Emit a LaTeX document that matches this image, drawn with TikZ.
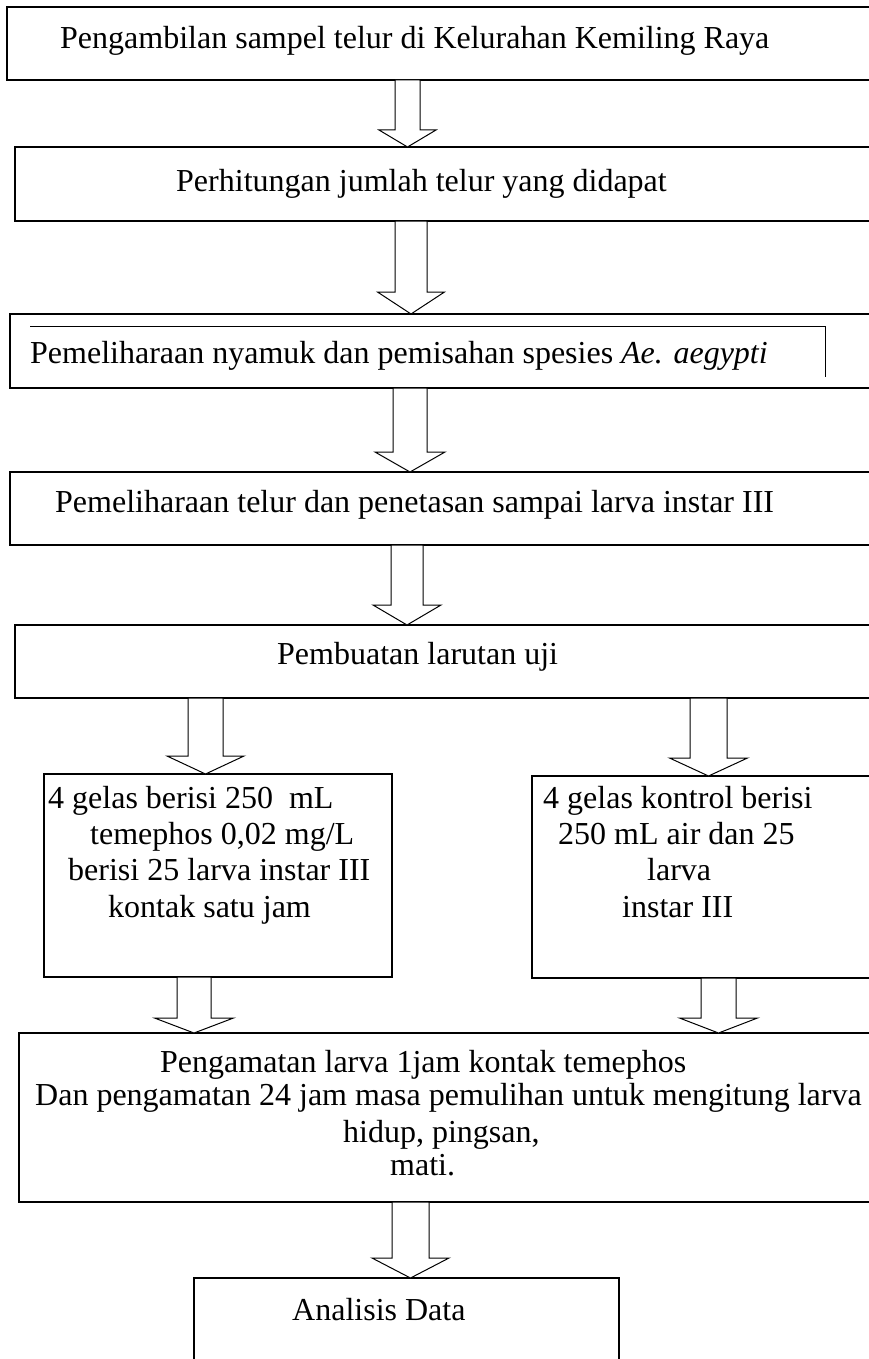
\documentclass[tikz,border=0pt]{standalone}
\usepackage{fontspec}
\setmainfont{Liberation Serif}
\usetikzlibrary{calc}
\tikzset{
  box/.style={draw, line width=1.2pt, inner sep=0pt, outer sep=0pt, anchor=north west},
  txt/.style={anchor=base west, inner sep=0pt, font=\fontsize{32}{37}\selectfont},
  arr/.style={draw, fill=white, line width=1pt, line join=miter},
  inner/.style={draw, line width=0.8pt},
}
% #1 x centre, #2 shaft half width, #3 head half width, #4 head length, #5 from node, #6 to node
\newcommand\blockarr[6]{%
  \path[arr] let \p1=(#1,0 |- #5.south), \p2=(#1,0 |- #6.north) in
    (\x1-#2pt,\y1) -- (\x1-#2pt,\y2+#4pt) -- (\x1-#3pt,\y2+#4pt) -- (\x1,\y2)
    -- (\x1+#3pt,\y2+#4pt) -- (\x1+#2pt,\y2+#4pt) -- (\x1+#2pt,\y1) -- cycle;}
\begin{document}
\begin{tikzpicture}[x=1pt,y=-1pt]
\useasboundingbox (0,0) rectangle (869,1359);
\clip (0,0) rectangle (869,1359);
\fill[white] (0,0) rectangle (869,1359);

% boxes
\node[box, minimum width=873, minimum height=73] (b1) at (7,7) {};
\node[box, minimum width=865, minimum height=74] (b2) at (15,147) {};
\node[box, minimum width=870, minimum height=74] (b3) at (10,314) {};
\node[box, minimum width=870, minimum height=73] (b4) at (10,472) {};
\node[box, minimum width=865, minimum height=73] (b5) at (15,625) {};
\node[box, minimum width=348, minimum height=203] (b6l) at (44,774) {};
\node[box, minimum width=348, minimum height=202] (b6r) at (532,776) {};
\node[box, minimum width=861, minimum height=169] (b7) at (19,1033) {};
\node[box, minimum width=425, minimum height=120] (b8) at (194,1278) {};

% inner frame line in box 3
\coordinate (i1) at (30,326);
\coordinate (i2) at (825,326);
\coordinate (i3) at (825,377);
\draw[inner] (i1) -- (i2) -- (i3);

% texts
\node[txt] (t1) at (60,49) {Pengambilan sampel telur di Kelurahan Kemiling Raya};
\node[txt] (t2) at (176,192) {Perhitungan jumlah telur yang didapat};
\node[txt] (t3) at (30,363) {Pemeliharaan nyamuk dan pemisahan spesies \textit{Ae. aegypti}};
\node[txt] (t4) at (55,512) {Pemeliharaan telur dan penetasan sampai larva instar III};
\node[txt] (t5) at (277,664) {Pembuatan larutan uji};

\node[txt] (l1) at (48,808) {4 gelas berisi 250\ \ mL};
\node[txt] (l2) at (90,844) {temephos 0,02 mg/L};
\node[txt] (l3) at (68,880) {berisi 25 larva instar III};
\node[txt] (l4) at (108,917) {kontak satu jam};

\node[txt] (r1) at (543,808) {4 gelas kontrol berisi};
\node[txt] (r2) at (558,844) {250 mL air dan 25};
\node[txt] (r3) at (647,880) {larva};
\node[txt] (r4) at (622,917) {instar III};

\node[txt] (m1) at (160,1072) {Pengamatan larva 1jam kontak temephos};
\node[txt] (m2) at (35,1105) {Dan pengamatan 24 jam masa pemulihan untuk mengitung larva};
\node[txt] (m3) at (343,1142) {hidup, pingsan,};
\node[txt] (m4) at (390,1175) {mati.};

\node[txt] (t8) at (292,1320) {Analisis Data};

% block arrows
\blockarr{407.5}{12.5}{28.5}{17}{b1}{b2}
\blockarr{411}{16}{33.5}{22}{b2}{b3}
\blockarr{410}{17}{35}{20}{b3}{b4}
\blockarr{407}{16}{34}{20}{b4}{b5}
\blockarr{205.5}{17.5}{38.5}{18}{b5}{b6l}
\blockarr{708.5}{18.5}{39}{18}{b5}{b6r}
\blockarr{194}{17}{39.5}{15}{b6l}{b7}
\blockarr{718.5}{17.5}{39}{15}{b6r}{b7}
\blockarr{410.5}{18.5}{38.5}{20}{b7}{b8}
\end{tikzpicture}
\end{document}
